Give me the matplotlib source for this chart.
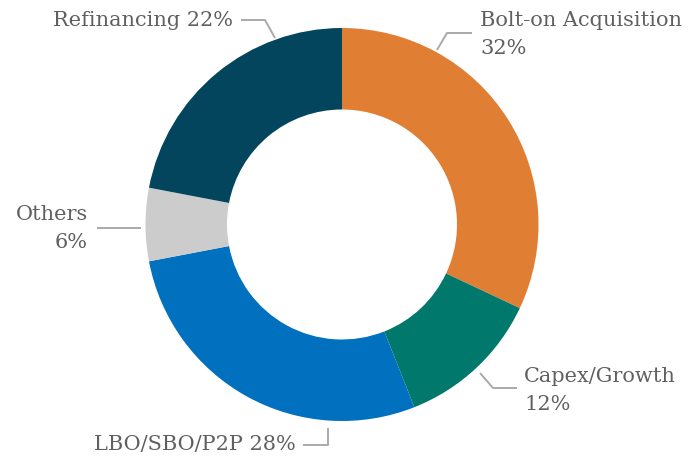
import matplotlib
matplotlib.use("Agg")
import matplotlib.pyplot as plt

categories = ["Bolt-on Acquisition", "Capex/Growth", "LBO/SBO/P2P", "Others", "Refinancing"]
values = [32, 12, 28, 6, 22]
colors = ["#E07E33", "#00796C", "#0070BF", "#CCCCCC", "#03455C"]

W, H = 689, 462
fig = plt.figure(figsize=(W / 100, H / 100), dpi=100)
ax = fig.add_axes([0, 0, 1, 1])
ax.set_xlim(0, W)
ax.set_ylim(0, H)
ax.set_aspect("equal")
ax.axis("off")

cx, cy, R = 342, H - 224.5, 196.5
ax.pie(values, colors=colors, startangle=90, counterclock=False,
       center=(cx, cy), radius=R,
       wedgeprops=dict(width=R - 115, linewidth=0))
ax.set_xlim(0, W)
ax.set_ylim(0, H)

tc = "#606060"
lc = "#AAAAAA"
fs = 15
fam = "DejaVu Serif"

def line(pts):
    xs = [p[0] for p in pts]
    ys = [H - p[1] for p in pts]
    ax.plot(xs, ys, color=lc, lw=1.4, solid_capstyle="butt")

def txt(x, y, s, ha):
    ax.text(x, H - y, s, ha=ha, va="center", color=tc, fontsize=fs, family=fam)

lab = {c: f"{v}%" for c, v in zip(categories, values)}

# Refinancing
line([(241, 20), (265, 20), (275, 38)])
txt(233, 20, f"{categories[4]} {lab[categories[4]]}", "right")
# Bolt-on
line([(437, 50), (447, 33), (472, 33)])
txt(480, 20, categories[0], "left")
txt(480, 48, lab[categories[0]], "left")
# Others
line([(97, 228), (141, 228)])
txt(88, 215, categories[3], "right")
txt(88, 243, lab[categories[3]], "right")
# Capex
line([(480, 373), (493, 388), (517, 388)])
txt(524, 376, categories[1], "left")
txt(524, 404, lab[categories[1]], "left")
# LBO
line([(303, 445), (328, 445), (328, 428)])
txt(296, 445, f"{categories[2]} {lab[categories[2]]}", "right")

fig.savefig("out.png", dpi=100)
